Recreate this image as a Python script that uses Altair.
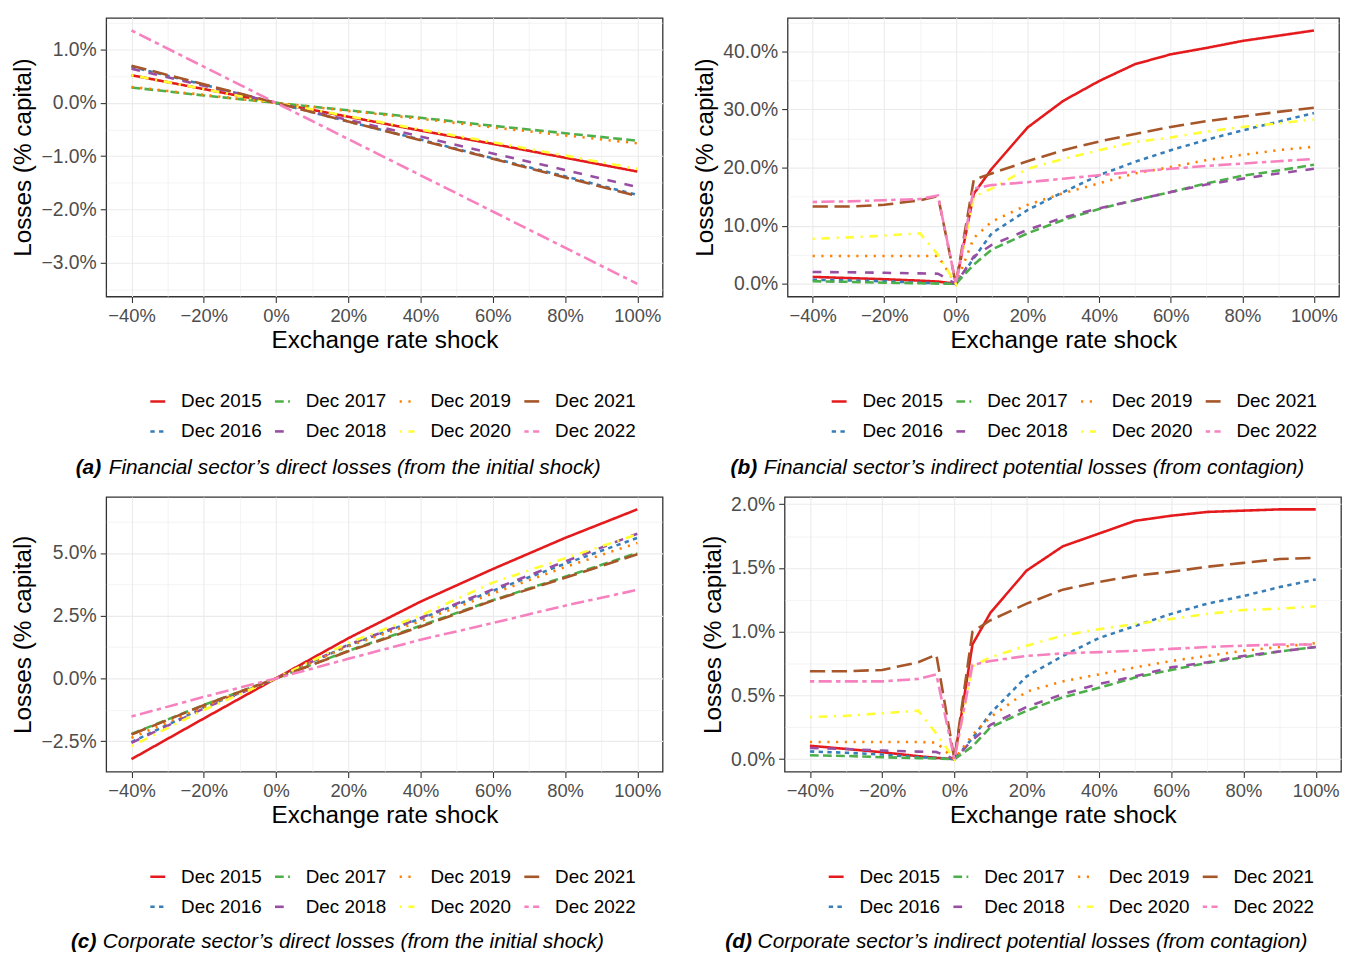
import altair as alt
import pandas as pd

series = ["Dec 2015", "Dec 2016", "Dec 2017", "Dec 2018",
          "Dec 2019", "Dec 2020", "Dec 2021", "Dec 2022"]
colors = ["#E41A1C", "#377EB8", "#4DAF4A", "#984EA3",
          "#FF7F00", "#FFFF33", "#A65628", "#F781BF"]
U = 2.2
dashes = [[1, 0], [2 * U, 2 * U], [4 * U, 2 * U], [4 * U, 4 * U],
          [1 * U, 3 * U], [1 * U, 3 * U, 4 * U, 3 * U], [7 * U, 3 * U],
          [2 * U, 2 * U, 6 * U, 2 * U]]

shock_ac = [-40, -20, 0, 20, 40, 60, 80, 100]
shock_bd = [-40, -30, -20, -10, -5, 0, 5, 10, 20, 30, 40, 50, 60, 70, 80, 90, 100]

# (a) Financial sector direct losses
a_2015 = [0.52, 0.26, 0, -0.26, -0.52, -0.77, -1.03, -1.29]
a_2016 = [0.68, 0.34, 0, -0.35, -0.69, -1.04, -1.38, -1.73]
a_2017 = [0.29, 0.14, 0, -0.14, -0.28, -0.43, -0.57, -0.71]
a_2018 = [0.64, 0.32, 0, -0.32, -0.63, -0.95, -1.26, -1.58]
a_2019 = [0.30, 0.15, 0, -0.15, -0.30, -0.46, -0.61, -0.76]
a_2020 = [0.52, 0.26, 0, -0.25, -0.50, -0.74, -0.99, -1.24]
a_2021 = [0.70, 0.35, 0, -0.35, -0.70, -1.05, -1.40, -1.75]
a_2022 = [1.36, 0.68, 0, -0.68, -1.36, -2.04, -2.72, -3.40]

# (b) Financial sector indirect potential losses
b_2015 = [1.2, 1.0, 0.8, 0.55, 0.4, 0.0, 15.5, 19.8, 26.9, 31.5, 34.9, 37.8, 39.5, 40.6, 41.8, 42.7, 43.6]
b_2016 = [0.7, 0.6, 0.45, 0.2, 0.1, 0.0, 4.4, 8.7, 12.7, 15.8, 18.7, 21.0, 23.0, 24.8, 26.4, 27.9, 29.4]
b_2017 = [0.45, 0.35, 0.2, 0.1, 0.05, 0.0, 3.3, 5.9, 8.7, 11.0, 12.9, 14.4, 15.8, 17.3, 18.6, 19.5, 20.5]
b_2018 = [2.05, 2.0, 1.9, 1.8, 1.75, 0.0, 4.7, 6.7, 9.3, 11.4, 13.0, 14.4, 15.8, 17.1, 18.1, 19.0, 19.8]
b_2019 = [4.8, 4.8, 4.8, 4.8, 4.8, 0.0, 7.9, 10.7, 13.6, 15.6, 17.3, 19.0, 20.1, 21.3, 22.2, 23.0, 23.6]
b_2020 = [7.75, 8.0, 8.3, 8.7, 5.0, 0.0, 15.0, 16.4, 19.8, 21.5, 23.0, 24.4, 25.2, 26.2, 27.0, 27.6, 28.3]
b_2021 = [13.3, 13.3, 13.6, 14.4, 15.1, 0.0, 17.9, 19.0, 21.1, 23.0, 24.5, 25.8, 27.0, 28.0, 28.8, 29.6, 30.3]
b_2022 = [14.1, 14.2, 14.4, 14.6, 15.2, 0.0, 16.4, 17.0, 17.5, 18.1, 18.7, 19.3, 19.8, 20.3, 20.7, 21.1, 21.5]

# (c) Corporate sector direct losses
c_2015 = [-3.22, -1.60, 0, 1.60, 3.06, 4.36, 5.60, 6.74]
c_2016 = [-2.54, -1.16, 0, 1.31, 2.38, 3.49, 4.57, 5.60]
c_2017 = [-2.22, -1.06, 0, 1.10, 2.10, 3.12, 4.05, 5.00]
c_2018 = [-2.57, -1.20, 0, 1.34, 2.41, 3.55, 4.66, 5.77]
c_2019 = [-2.37, -1.13, 0, 1.28, 2.28, 3.39, 4.44, 5.40]
c_2020 = [-2.70, -1.26, 0, 1.41, 2.51, 3.82, 4.79, 5.74]
c_2021 = [-2.24, -1.07, 0, 1.08, 2.06, 3.10, 4.01, 4.95]
c_2022 = [-1.52, -0.74, 0, 0.78, 1.54, 2.21, 2.90, 3.53]

# (d) Corporate sector indirect potential losses
d_2015 = [0.105, 0.08, 0.054, 0.023, 0.01, 0.0, 0.90, 1.15, 1.48, 1.67, 1.77, 1.87, 1.91, 1.94, 1.95, 1.96, 1.96]
d_2016 = [0.06, 0.05, 0.036, 0.015, 0.01, 0.0, 0.165, 0.36, 0.65, 0.81, 0.95, 1.045, 1.14, 1.22, 1.28, 1.35, 1.41]
d_2017 = [0.03, 0.025, 0.015, 0.008, 0.005, 0.0, 0.10, 0.25, 0.38, 0.485, 0.56, 0.64, 0.70, 0.755, 0.80, 0.845, 0.88]
d_2018 = [0.087, 0.08, 0.067, 0.059, 0.056, 0.0, 0.15, 0.27, 0.41, 0.51, 0.59, 0.65, 0.72, 0.76, 0.81, 0.845, 0.88]
d_2019 = [0.135, 0.135, 0.135, 0.135, 0.13, 0.0, 0.19, 0.33, 0.53, 0.61, 0.665, 0.72, 0.77, 0.81, 0.85, 0.88, 0.91]
d_2020 = [0.33, 0.34, 0.36, 0.38, 0.20, 0.0, 0.73, 0.80, 0.89, 0.97, 1.02, 1.06, 1.10, 1.14, 1.17, 1.18, 1.20]
d_2021 = [0.69, 0.69, 0.70, 0.76, 0.82, 0.0, 1.00, 1.09, 1.22, 1.33, 1.39, 1.44, 1.47, 1.51, 1.54, 1.57, 1.58]
d_2022 = [0.61, 0.61, 0.61, 0.63, 0.665, 0.0, 0.74, 0.77, 0.81, 0.83, 0.84, 0.85, 0.865, 0.88, 0.89, 0.90, 0.90]

FONT = "Liberation Sans"


def make_df(x, cols):
    rows = []
    for name, vals in zip(series, cols):
        for xi, v in zip(x, vals):
            rows.append({"shock": xi, "loss": v, "series": name})
    return pd.DataFrame(rows)


def cond(test, yes, no):
    return {"condition": {"test": test, "value": yes}, "value": no}


def panel(df, width, height, yvals, ystep, letter, caption,
          cap_x1, cap_x2, cap_y, leg_x, leg_y):
    lo, hi = df["loss"].min(), df["loss"].max()
    pad = (hi - lo) * 0.05
    ydom = [lo - pad, hi + pad]
    xgrid = list(range(-40, 101, 10))
    xmaj = "datum.value % 20 === 0"
    ymaj = f"abs(datum.value / {ystep} - round(datum.value / {ystep})) < 0.001"
    xaxis = alt.Axis(
        values=xgrid,
        labelExpr=f"({xmaj}) ? (datum.value < 0 ? '\u2212' : '') + abs(datum.value) + '%' : ''",
        gridWidth=cond(xmaj, 1.1, 0.55),
        tickOpacity=cond(xmaj, 1, 0),
        labelFontSize=cond(xmaj, 18.5, 0),
        labelFlush=False, labelOverlap=False,
        titlePadding=4,
    )
    yaxis = alt.Axis(
        values=yvals,
        labelExpr=f"({ymaj}) ? (datum.value < -0.0001 ? '\u2212' : '') + format(abs(datum.value), '.1f') + '%' : ''",
        gridWidth=cond(ymaj, 1.1, 0.55),
        tickOpacity=cond(ymaj, 1, 0),
        labelFontSize=cond(ymaj, 19.5, 0),
        labelFlush=False, labelOverlap=False,
        titlePadding=5,
    )
    leg = alt.Legend(
        orient="none", legendX=leg_x, legendY=leg_y, columns=4, title=None,
        symbolType="stroke", symbolSize=225, symbolStrokeWidth=2.6,
        labelFontSize=19, labelColor="black", labelOffset=14,
        columnPadding=6.7, rowPadding=10.5, padding=0, labelFont=FONT,
    )
    lines = alt.Chart(df).mark_line(strokeWidth=2.6).encode(
        x=alt.X("shock:Q", title="Exchange rate shock",
                scale=alt.Scale(domain=[-47, 107], nice=False, zero=False),
                axis=xaxis),
        y=alt.Y("loss:Q", title="Losses (% capital)",
                scale=alt.Scale(domain=ydom, nice=False, zero=False),
                axis=yaxis),
        color=alt.Color("series:N", scale=alt.Scale(domain=series, range=colors), legend=leg),
        strokeDash=alt.StrokeDash("series:N", scale=alt.Scale(domain=series, range=dashes), legend=leg),
        order=alt.Order("shock:Q"),
    )
    t1 = alt.Chart(pd.DataFrame({"t": [letter]})).mark_text(
        align="left", baseline="middle", fontSize=21, fontStyle="italic",
        fontWeight="bold", color="black", font=FONT,
    ).encode(text="t:N", x=alt.value(cap_x1), y=alt.value(cap_y))
    t2 = alt.Chart(pd.DataFrame({"t": [caption]})).mark_text(
        align="left", baseline="middle", fontSize=21, fontStyle="italic",
        color="black", font=FONT,
    ).encode(text="t:N", x=alt.value(cap_x2), y=alt.value(cap_y))
    return alt.layer(lines, t1, t2).properties(width=width, height=height)


df_a = make_df(shock_ac, [a_2015, a_2016, a_2017, a_2018, a_2019, a_2020, a_2021, a_2022])
df_b = make_df(shock_bd, [b_2015, b_2016, b_2017, b_2018, b_2019, b_2020, b_2021, b_2022])
df_c = make_df(shock_ac, [c_2015, c_2016, c_2017, c_2018, c_2019, c_2020, c_2021, c_2022])
df_d = make_df(shock_bd, [d_2015, d_2016, d_2017, d_2018, d_2019, d_2020, d_2021, d_2022])

ya = [-3.5, -3.0, -2.5, -2.0, -1.5, -1.0, -0.5, 0.0, 0.5, 1.0, 1.5]
yb = [0, 5, 10, 15, 20, 25, 30, 35, 40, 45]
yc = [-2.5, -1.25, 0.0, 1.25, 2.5, 3.75, 5.0, 6.25]
yd = [0.0, 0.25, 0.5, 0.75, 1.0, 1.25, 1.5, 1.75, 2.0]

pa = panel(df_a, 561, 281, ya, 1, "(a)",
           "Financial sector\u2019s direct losses (from the initial shock)",
           -30.8, 2.5, 453.8, 42.5, 377)
pb = panel(df_b, 556, 281, yb, 10, "(b)",
           "Financial sector\u2019s indirect potential losses (from contagion)",
           -57.5, -24.1, 453.8, 42.5, 377)
pc = panel(df_c, 561, 277, yc, 2.5, "(c)",
           "Corporate sector\u2019s direct losses (from the initial shock)",
           -35.6, -3.4, 448.5, 42.5, 373.3)
pd_ = panel(df_d, 561, 277, yd, 0.5, "(d)",
            "Corporate sector\u2019s indirect potential losses (from contagion)",
            -59.8, -27.2, 448.5, 42.5, 373.3)

row1 = alt.hconcat(pa, pb, spacing=29).resolve_scale(
    color="independent", strokeDash="independent")
row2 = alt.hconcat(pc, pd_, spacing=36).resolve_scale(
    color="independent", strokeDash="independent")

chart = alt.vconcat(row1, row2, spacing=14).resolve_scale(
    color="independent", strokeDash="independent"
).properties(
    padding={"left": 2, "top": 5, "right": 0, "bottom": 0},
    background="white",
).configure(font=FONT).configure_view(
    stroke="#333333", strokeWidth=1.3
).configure_axis(
    domain=False, tickColor="#333333", tickWidth=1.1, tickSize=6,
    labelColor="#4D4D4D", labelFont=FONT, labelPadding=4,
    titleFont=FONT, titleFontSize=24.5, titleFontWeight="normal",
    titleColor="black", gridColor="#EBEBEB",
)

chart.save("out.html", embed_options={"renderer": "svg", "actions": False})
